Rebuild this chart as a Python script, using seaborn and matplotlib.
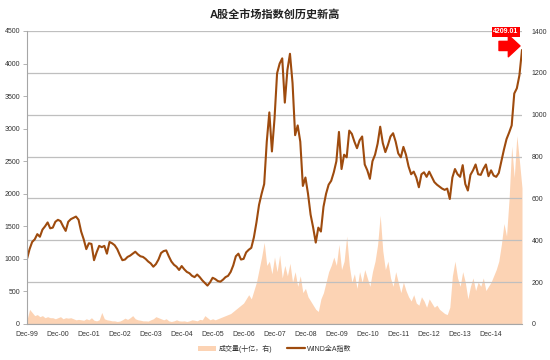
import numpy as np
import pandas as pd
import matplotlib
matplotlib.use("Agg")
import matplotlib.pyplot as plt
import matplotlib.transforms as mtransforms
from matplotlib.patches import Patch
from matplotlib.lines import Line2D
import seaborn as sns

# ---------------- data (monthly samples) ----------------
index_values = [
    1000, 1150, 1260, 1300, 1380, 1340, 1450, 1500, 1560, 1470, 1480, 1570, 1600,
    1580, 1500, 1430, 1570, 1610, 1630, 1650, 1600, 1420, 1300, 1150, 1240,
    1230, 980, 1100, 1200, 1180, 1200, 1080, 1260, 1240, 1210, 1150, 1060,
    980, 990, 1030, 1050, 1080, 1110, 1070, 1040, 1030, 1000, 960, 930,
    880, 920, 990, 1090, 1120, 1130, 1040, 960, 910, 880, 830, 890,
    840, 800, 780, 740, 720, 760, 720, 670, 630, 590, 640, 710,
    690, 660, 650, 680, 720, 740, 800, 900, 1040, 1080, 990, 1000,
    1100, 1140, 1170, 1330, 1560, 1830, 2000, 2150, 2800, 3250, 2650, 3150,
    3850, 4000, 4080, 3400, 3900, 4150, 3700, 2900, 3050, 2800, 2120, 2250,
    2000, 1680, 1480, 1250, 1480, 1420, 1800, 2000, 2140, 2200, 2330, 2500,
    2950, 2380, 2600, 2560, 2970, 2920, 2800, 2700, 2820, 2880, 2450, 2360,
    2230, 2500, 2600, 2770, 3030, 2780, 2640, 2750, 2880, 2930, 2800, 2620,
    2560, 2720, 2600, 2420, 2300, 2340, 2250, 2100, 2300, 2330, 2260, 2340,
    2260, 2180, 2140, 2110, 2080, 2060, 2080, 1920, 2250, 2380, 2300, 2260,
    2440, 2150, 2050, 2290, 2360, 2450, 2300, 2290, 2380, 2450, 2270, 2360,
    2280, 2260, 2320, 2500, 2680, 2840, 2940, 3050, 3540, 3620, 3820, 4209,
]
volume_values = [
    20, 70, 55, 40, 45, 35, 40, 30, 35, 30, 30, 25, 30,
    35, 25, 30, 28, 30, 25, 20, 22, 20, 18, 25, 20,
    30, 18, 15, 20, 55, 25, 20, 18, 15, 15, 12, 14,
    20, 28, 22, 30, 40, 25, 20, 18, 15, 15, 14, 20,
    25, 35, 30, 25, 20, 25, 15, 12, 15, 20, 15, 14,
    15, 12, 15, 20, 18, 15, 22, 20, 40, 30, 20, 25,
    20, 25, 30, 35, 40, 45, 50, 60, 70, 80, 90, 100,
    120, 140, 120, 160, 200, 260, 320, 390, 280, 300, 240, 320,
    250, 330, 220, 280, 230, 290, 200, 250, 180, 230, 150, 170,
    130, 110, 90, 70, 60, 120, 150, 200, 250, 280, 320, 280,
    380, 260, 300, 420, 280, 200, 240, 170, 250, 200, 260, 220,
    180, 250, 300, 380, 520, 350, 260, 300, 220, 180, 250, 200,
    150, 200, 160, 130, 110, 140, 100, 90, 130, 110, 80, 120,
    100, 80, 90, 70, 60, 50, 45, 80, 230, 300, 220, 180,
    250, 200, 120, 180, 220, 160, 200, 180, 220, 160, 180, 200,
    230, 260, 300, 380, 480, 420, 600, 850, 700, 900, 780, 650,
]
tick_labels = ["Dec-99", "Dec-00", "Dec-01", "Dec-02", "Dec-03", "Dec-04",
               "Dec-05", "Dec-06", "Dec-07", "Dec-08", "Dec-09", "Dec-10",
               "Dec-11", "Dec-12", "Dec-13", "Dec-14"]
title = "A股全市场指数创历史新高"
volume_label = "成交量(十亿，右)"
index_label = "WIND全A指数"
last_label = "4209.01"

# ---------------- styling ----------------
sns.set_theme(style="white")
plt.rcParams["font.family"] = ["Liberation Sans", "Noto Sans CJK SC", "DejaVu Sans"]
line_color = "#9E4B0E"
fill_color = "#FCD3B4"
grid_color = "#BFBFBF"
text_color = "#333333"

df = pd.DataFrame({"t": np.arange(len(index_values)),
                   "index": index_values,
                   "volume": volume_values})

fig = plt.figure(figsize=(5.5, 3.6), dpi=100)
ax = fig.add_axes([27 / 550, 36 / 360, 495 / 550, 293 / 360])
ax2 = ax.twinx()

# volume (right axis)
ax2.fill_between(df["t"], 0, df["volume"], color=fill_color, linewidth=0)
ax2.set_ylim(0, 1400)
ax2.set_yticks(range(0, 1401, 200))
ax2.grid(axis="y", color=grid_color, linewidth=0.9)
ax2.set_axisbelow("line")
ax2.tick_params(axis="y", length=0, labelsize=5, pad=7, labelcolor=text_color)
for s in ax2.spines.values():
    s.set_visible(False)

# index line (left axis)
sns.lineplot(data=df, x="t", y="index", ax=ax, color=line_color, linewidth=1.5)
ax.set_zorder(ax2.get_zorder() + 1)
ax.patch.set_visible(False)
ax.set_xlim(0, len(index_values) - 1)
ax.set_ylim(0, 4500)
ax.set_yticks(range(0, 4501, 500))
ax.set_xticks(range(0, 12 * len(tick_labels), 12))
ax.set_xticklabels(tick_labels)
ax.set_xlabel("")
ax.set_ylabel("")
ax.grid(False)
ax.tick_params(axis="y", length=3, width=0.6, color="#A6A6A6", labelsize=5,
               pad=2, labelcolor=text_color, direction="out", left=True)
ax.tick_params(axis="x", length=0, labelsize=5, pad=5, labelcolor=text_color)
for side in ["top", "right"]:
    ax.spines[side].set_visible(False)
ax.spines["left"].set_color("#A6A6A6")
ax.spines["left"].set_linewidth(0.8)
ax.spines["bottom"].set_color("#A6A6A6")
ax.spines["bottom"].set_linewidth(0.8)

# annotation of the last value
lx, ly = df["t"].iloc[-1], df["index"].iloc[-1]
ax.annotate(last_label, xy=(lx, ly), xytext=(-16, 18), textcoords="offset pixels",
            ha="center", va="center", fontsize=5, fontweight="bold", color="white",
            bbox=dict(boxstyle="square,pad=0.25", facecolor="#FF0000", edgecolor="none"),
            annotation_clip=False)
tip = mtransforms.offset_copy(ax.transData, fig=fig, x=-2, y=4, units="dots")
ax.annotate("", xy=(lx, ly), xycoords=tip, xytext=(-21, 0), textcoords="offset pixels",
            arrowprops=dict(arrowstyle="simple,head_length=0.7,head_width=1.3,tail_width=0.55",
                            color="#FF0000", shrinkA=0, shrinkB=0),
            annotation_clip=False)

# title
fig.text(0.5, 1 - 14 / 360, title, ha="center", va="center", fontsize=8,
         fontweight="bold", color="#222222")

# legend
handles = [Patch(facecolor=fill_color, edgecolor="none", label=volume_label),
           Line2D([], [], color=line_color, linewidth=1.6, label=index_label)]
fig.legend(handles=handles, loc="center", bbox_to_anchor=(0.5, 1 - 349 / 360),
           ncol=2, frameon=False, fontsize=5, handlelength=2.6, handleheight=0.8,
           columnspacing=2.0, handletextpad=0.4, labelcolor=text_color)

fig.savefig("out.png", dpi=100)
